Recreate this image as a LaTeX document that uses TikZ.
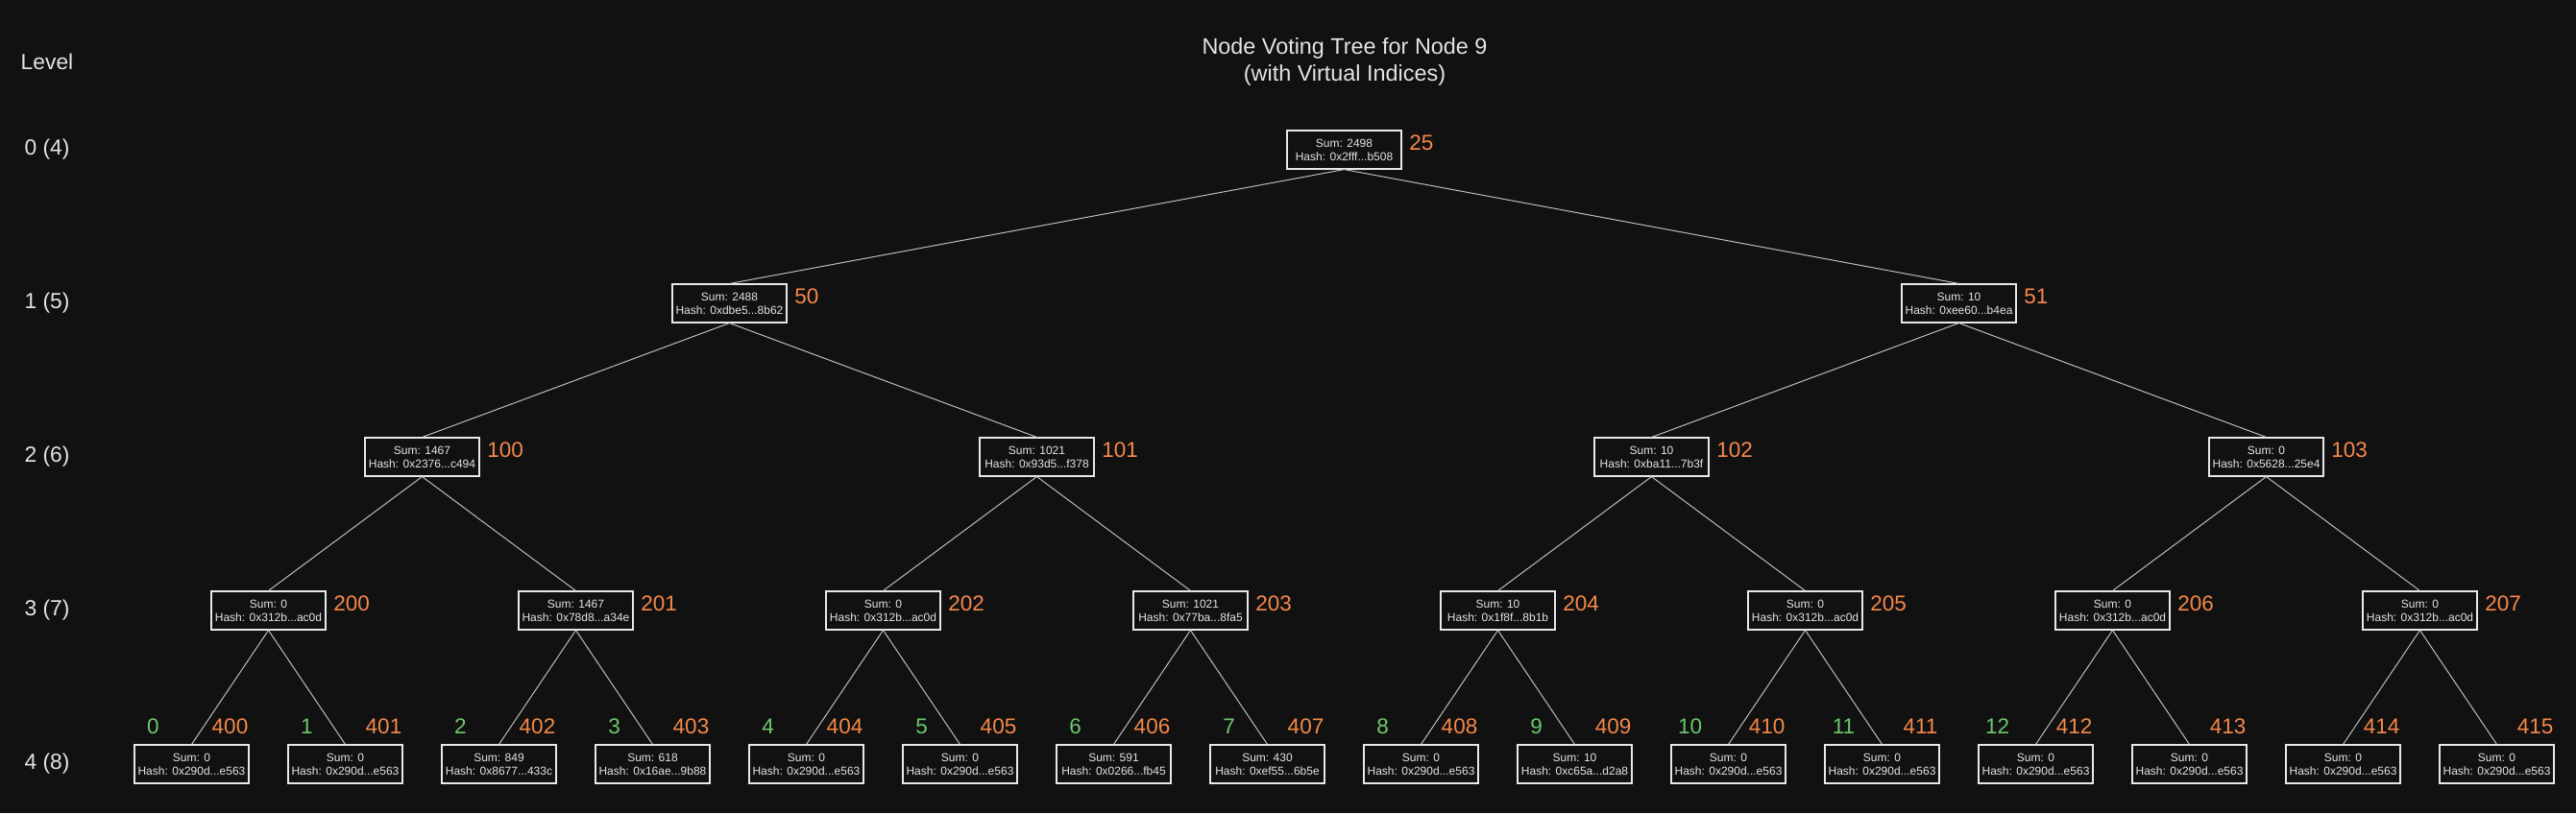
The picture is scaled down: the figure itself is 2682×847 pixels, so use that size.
\documentclass[tikz,border=0pt]{standalone}
\usepackage{fontspec}
\setmainfont{Liberation Sans}
\usepackage{tikz}
\definecolor{bg}{HTML}{111111}
\definecolor{fg}{HTML}{E4E4E4}
\definecolor{boxline}{HTML}{E8E8E8}
\definecolor{edgeline}{HTML}{BDBDBD}
\definecolor{virt}{HTML}{F5884A}
\definecolor{real}{HTML}{6CC96C}
\begin{document}
\begin{tikzpicture}[x=1pt,y=-1pt,
                    edge/.style={draw=edgeline,line width=1pt}]
  \tikzstyle{vote}=[draw=boxline,line width=1.6pt,fill=bg,text=fg,
                    minimum width=119.5pt,minimum height=39.5pt,inner sep=0pt,
                    align=center,font=\fontsize{12}{14}\selectfont]
  \tikzstyle{idx}=[text=virt,inner sep=0pt,anchor=base west,
                   font=\fontsize{22.5}{26}\selectfont]
  \tikzstyle{leafidx}=[idx,anchor=base]
  \tikzstyle{realidx}=[leafidx,text=real]
  \tikzstyle{lvl}=[text=fg,inner sep=0pt,font=\fontsize{22.8}{26}\selectfont]

  \fill[bg] (0,0) rectangle (2682,847);
  \useasboundingbox (0,0) rectangle (2682,847);

  \node[lvl,align=center,font=\fontsize{23.4}{28}\selectfont]
        (title) at (1400,64) {Node Voting Tree for Node 9\\(with Virtual Indices)};
  \node[lvl] (lhead) at (49,64)  {Level};
  \node[lvl] (l0)    at (49,156) {0 (4)};
  \node[lvl] (l1)    at (49,316) {1 (5)};
  \node[lvl] (l2)    at (49,476) {2 (6)};
  \node[lvl] (l3)    at (49,636) {3 (7)};
  \node[lvl] (l4)    at (49,796) {4 (8)};

  \node[vote] (n25)  at (1399.5,156) {Sum: 2498\\Hash: 0x2fff...b508};

  \node[vote] (n50)  at (759.5,316)  {Sum: 2488\\Hash: 0xdbe5...8b62};
  \node[vote] (n51)  at (2039.5,316) {Sum: 10\\Hash: 0xee60...b4ea};

  \node[vote] (n100) at (439.5,476)  {Sum: 1467\\Hash: 0x2376...c494};
  \node[vote] (n101) at (1079.5,476) {Sum: 1021\\Hash: 0x93d5...f378};
  \node[vote] (n102) at (1719.5,476) {Sum: 10\\Hash: 0xba11...7b3f};
  \node[vote] (n103) at (2359.5,476) {Sum: 0\\Hash: 0x5628...25e4};

  \node[vote] (n200) at (279.5,636)  {Sum: 0\\Hash: 0x312b...ac0d};
  \node[vote] (n201) at (599.5,636)  {Sum: 1467\\Hash: 0x78d8...a34e};
  \node[vote] (n202) at (919.5,636)  {Sum: 0\\Hash: 0x312b...ac0d};
  \node[vote] (n203) at (1239.5,636) {Sum: 1021\\Hash: 0x77ba...8fa5};
  \node[vote] (n204) at (1559.5,636) {Sum: 10\\Hash: 0x1f8f...8b1b};
  \node[vote] (n205) at (1879.5,636) {Sum: 0\\Hash: 0x312b...ac0d};
  \node[vote] (n206) at (2199.5,636) {Sum: 0\\Hash: 0x312b...ac0d};
  \node[vote] (n207) at (2519.5,636) {Sum: 0\\Hash: 0x312b...ac0d};

  \node[vote] (n400) at (199.5,796)  {Sum: 0\\Hash: 0x290d...e563};
  \node[vote] (n401) at (359.5,796)  {Sum: 0\\Hash: 0x290d...e563};
  \node[vote] (n402) at (519.5,796)  {Sum: 849\\Hash: 0x8677...433c};
  \node[vote] (n403) at (679.5,796)  {Sum: 618\\Hash: 0x16ae...9b88};
  \node[vote] (n404) at (839.5,796)  {Sum: 0\\Hash: 0x290d...e563};
  \node[vote] (n405) at (999.5,796)  {Sum: 0\\Hash: 0x290d...e563};
  \node[vote] (n406) at (1159.5,796) {Sum: 591\\Hash: 0x0266...fb45};
  \node[vote] (n407) at (1319.5,796) {Sum: 430\\Hash: 0xef55...6b5e};
  \node[vote] (n408) at (1479.5,796) {Sum: 0\\Hash: 0x290d...e563};
  \node[vote] (n409) at (1639.5,796) {Sum: 10\\Hash: 0xc65a...d2a8};
  \node[vote] (n410) at (1799.5,796) {Sum: 0\\Hash: 0x290d...e563};
  \node[vote] (n411) at (1959.5,796) {Sum: 0\\Hash: 0x290d...e563};
  \node[vote] (n412) at (2119.5,796) {Sum: 0\\Hash: 0x290d...e563};
  \node[vote] (n413) at (2279.5,796) {Sum: 0\\Hash: 0x290d...e563};
  \node[vote] (n414) at (2439.5,796) {Sum: 0\\Hash: 0x290d...e563};
  \node[vote] (n415) at (2599.5,796) {Sum: 0\\Hash: 0x290d...e563};

  \node[idx] (i25)  at ([shift={(7pt,-21pt)}]n25.north east)  {25};
  \node[idx] (i50)  at ([shift={(7pt,-21pt)}]n50.north east)  {50};
  \node[idx] (i51)  at ([shift={(7pt,-21pt)}]n51.north east)  {51};
  \node[idx] (i100) at ([shift={(7pt,-21pt)}]n100.north east) {100};
  \node[idx] (i101) at ([shift={(7pt,-21pt)}]n101.north east) {101};
  \node[idx] (i102) at ([shift={(7pt,-21pt)}]n102.north east) {102};
  \node[idx] (i103) at ([shift={(7pt,-21pt)}]n103.north east) {103};
  \node[idx] (i200) at ([shift={(7pt,-21pt)}]n200.north east) {200};
  \node[idx] (i201) at ([shift={(7pt,-21pt)}]n201.north east) {201};
  \node[idx] (i202) at ([shift={(7pt,-21pt)}]n202.north east) {202};
  \node[idx] (i203) at ([shift={(7pt,-21pt)}]n203.north east) {203};
  \node[idx] (i204) at ([shift={(7pt,-21pt)}]n204.north east) {204};
  \node[idx] (i205) at ([shift={(7pt,-21pt)}]n205.north east) {205};
  \node[idx] (i206) at ([shift={(7pt,-21pt)}]n206.north east) {206};
  \node[idx] (i207) at ([shift={(7pt,-21pt)}]n207.north east) {207};

  \node[leafidx] (i400) at ([shift={(40pt,10.7pt)}]n400.north) {400};
  \node[leafidx] (i401) at ([shift={(40pt,10.7pt)}]n401.north) {401};
  \node[leafidx] (i402) at ([shift={(40pt,10.7pt)}]n402.north) {402};
  \node[leafidx] (i403) at ([shift={(40pt,10.7pt)}]n403.north) {403};
  \node[leafidx] (i404) at ([shift={(40pt,10.7pt)}]n404.north) {404};
  \node[leafidx] (i405) at ([shift={(40pt,10.7pt)}]n405.north) {405};
  \node[leafidx] (i406) at ([shift={(40pt,10.7pt)}]n406.north) {406};
  \node[leafidx] (i407) at ([shift={(40pt,10.7pt)}]n407.north) {407};
  \node[leafidx] (i408) at ([shift={(40pt,10.7pt)}]n408.north) {408};
  \node[leafidx] (i409) at ([shift={(40pt,10.7pt)}]n409.north) {409};
  \node[leafidx] (i410) at ([shift={(40pt,10.7pt)}]n410.north) {410};
  \node[leafidx] (i411) at ([shift={(40pt,10.7pt)}]n411.north) {411};
  \node[leafidx] (i412) at ([shift={(40pt,10.7pt)}]n412.north) {412};
  \node[leafidx] (i413) at ([shift={(40pt,10.7pt)}]n413.north) {413};
  \node[leafidx] (i414) at ([shift={(40pt,10.7pt)}]n414.north) {414};
  \node[leafidx] (i415) at ([shift={(40pt,10.7pt)}]n415.north) {415};

  \node[realidx] (r0)  at ([shift={(-40pt,10.7pt)}]n400.north) {0};
  \node[realidx] (r1)  at ([shift={(-40pt,10.7pt)}]n401.north) {1};
  \node[realidx] (r2)  at ([shift={(-40pt,10.7pt)}]n402.north) {2};
  \node[realidx] (r3)  at ([shift={(-40pt,10.7pt)}]n403.north) {3};
  \node[realidx] (r4)  at ([shift={(-40pt,10.7pt)}]n404.north) {4};
  \node[realidx] (r5)  at ([shift={(-40pt,10.7pt)}]n405.north) {5};
  \node[realidx] (r6)  at ([shift={(-40pt,10.7pt)}]n406.north) {6};
  \node[realidx] (r7)  at ([shift={(-40pt,10.7pt)}]n407.north) {7};
  \node[realidx] (r8)  at ([shift={(-40pt,10.7pt)}]n408.north) {8};
  \node[realidx] (r9)  at ([shift={(-40pt,10.7pt)}]n409.north) {9};
  \node[realidx] (r10) at ([shift={(-40pt,10.7pt)}]n410.north) {10};
  \node[realidx] (r11) at ([shift={(-40pt,10.7pt)}]n411.north) {11};
  \node[realidx] (r12) at ([shift={(-40pt,10.7pt)}]n412.north) {12};

  \path[edge] (n25.south)  edge (n50.north)
                           edge (n51.north)
              (n50.south)  edge (n100.north)
                           edge (n101.north)
              (n51.south)  edge (n102.north)
                           edge (n103.north)
              (n100.south) edge (n200.north)
                           edge (n201.north)
              (n101.south) edge (n202.north)
                           edge (n203.north)
              (n102.south) edge (n204.north)
                           edge (n205.north)
              (n103.south) edge (n206.north)
                           edge (n207.north)
              (n200.south) edge (n400.north)
                           edge (n401.north)
              (n201.south) edge (n402.north)
                           edge (n403.north)
              (n202.south) edge (n404.north)
                           edge (n405.north)
              (n203.south) edge (n406.north)
                           edge (n407.north)
              (n204.south) edge (n408.north)
                           edge (n409.north)
              (n205.south) edge (n410.north)
                           edge (n411.north)
              (n206.south) edge (n412.north)
                           edge (n413.north)
              (n207.south) edge (n414.north)
                           edge (n415.north);
\end{tikzpicture}
\end{document}
